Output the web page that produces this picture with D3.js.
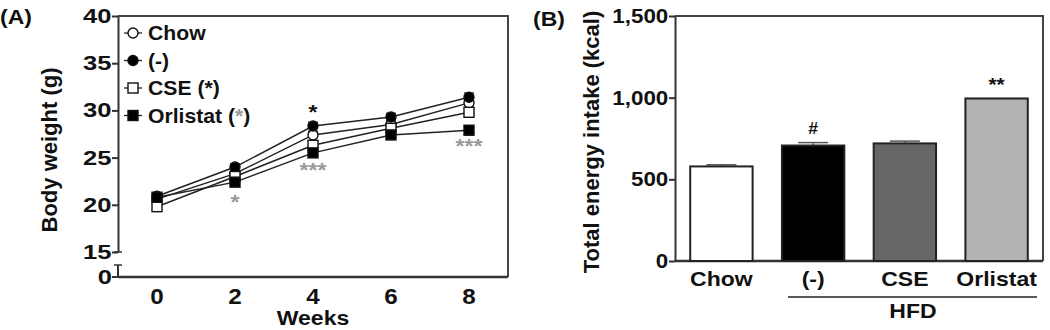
<!DOCTYPE html>
<html>
<head>
<meta charset="utf-8">
<script src="https://cdn.jsdelivr.net/npm/d3@7"></script>
<style>
  body { margin: 0; background: #fff; }
  svg text { font-family: "Liberation Sans", Arial, sans-serif; font-weight: bold; fill: #111; }
</style>
</head>
<body>
<svg id="chart" width="1050" height="330"></svg>
<script>
// panel A data: body weight by week
const weeks = [0, 2, 4, 6, 8];
const groupNames = ["Chow", "(-)", "CSE (*)", "Orlistat (*)"];
const chowWeight = [20.6, 23.3, 27.4, 28.5, 30.8];
const hfdWeight = [20.9, 24.0, 28.35, 29.3, 31.4];
const cseWeight = [19.8, 23.0, 26.3, 28.1, 29.8];
const orlistatWeight = [20.8, 22.4, 25.5, 27.4, 27.9];
const weightErr = [0.3, 0.35, 0.4, 0.4, 0.45];
const weightTicks = [15, 20, 25, 30, 35, 40];

// panel B data: total energy intake
const intakeCats = ["Chow", "(-)", "CSE", "Orlistat"];
const intakeVals = [579, 707, 720, 995];
const intakeErr = [10, 18, 14, 0];
const intakeTicks = [0, 500, 1000, 1500];

const svg = d3.select("#chart");

// the original lettering is a bit wider than Arial, so stretch it sideways
function addText(parent, x, y, str, size, anchor, sx) {
  const g = parent.append("g").attr("transform", "translate(" + x + "," + y + ") scale(" + sx + ",1)");
  return g.append("text").attr("text-anchor", anchor || "start").attr("font-size", size).text(str);
}

// ---------- panel A ----------
const xA = d3.scaleLinear().domain([-1, 9]).range([118, 508]);
const yA = d3.scaleLinear().domain([15, 40]).range([252, 16]);
const zeroY = 277;

addText(svg, 0, 24, "(A)", 20, "start", 1.15);

// frame top + right
svg.append("path")
  .attr("d", "M118,16H508V" + zeroY)
  .attr("fill", "none").attr("stroke", "#444").attr("stroke-width", 2);
// x axis line
svg.append("line").attr("x1", 118).attr("x2", 508).attr("y1", zeroY).attr("y2", zeroY)
  .attr("stroke", "#333").attr("stroke-width", 2.5);

// y axis (broken)
const yAxisA = svg.append("g").attr("transform", "translate(118,0)")
  .call(d3.axisLeft(yA).tickValues(weightTicks).tickSize(6).tickSizeOuter(0));
yAxisA.select(".domain").attr("stroke", "#333").attr("stroke-width", 2);
yAxisA.selectAll(".tick line").attr("stroke", "#333").attr("stroke-width", 2);
yAxisA.selectAll("text").attr("font-size", 20).attr("font-family", "Liberation Sans, Arial")
  .attr("font-weight", "bold").attr("fill", "#111").attr("x", -5).attr("transform", "scale(1.28,1)");
// break segment and 0 tick
svg.append("line").attr("x1", 118).attr("x2", 118).attr("y1", 265).attr("y2", zeroY)
  .attr("stroke", "#333").attr("stroke-width", 2);
svg.append("line").attr("x1", 114).attr("x2", 122).attr("y1", 265).attr("y2", 265)
  .attr("stroke", "#333").attr("stroke-width", 1.5);
svg.append("line").attr("x1", 114).attr("x2", 122).attr("y1", 252).attr("y2", 252)
  .attr("stroke", "#333").attr("stroke-width", 1.5);
svg.append("line").attr("x1", 112).attr("x2", 118).attr("y1", zeroY).attr("y2", zeroY)
  .attr("stroke", "#333").attr("stroke-width", 2);
addText(svg, 112, zeroY + 7, "0", 20, "end", 1.28);

// x tick labels
weeks.forEach(w => addText(svg, xA(w), 304, w, 22, "middle", 1.1));
addText(svg, xA(4), 325, "Weeks", 20, "middle", 1.15);

svg.append("text").attr("transform", "translate(57,150) rotate(-90)")
  .attr("text-anchor", "middle").attr("font-size", 22).text("Body weight (g)");

const seriesA = [
  { name: groupNames[0], vals: chowWeight, shape: "circle", fill: "#fff" },
  { name: groupNames[1], vals: hfdWeight, shape: "circle", fill: "#000" },
  { name: groupNames[2], vals: cseWeight, shape: "square", fill: "#fff" },
  { name: groupNames[3], vals: orlistatWeight, shape: "square", fill: "#000" }
];

const line = d3.line().x((d, i) => xA(weeks[i])).y(d => yA(d));

function drawMarker(g, s, cx, cy) {
  if (s.shape === "circle") {
    g.append("circle").attr("cx", cx).attr("cy", cy).attr("r", 5)
      .attr("fill", s.fill).attr("stroke", "#111").attr("stroke-width", 1.4);
  } else {
    g.append("rect").attr("x", cx - 5).attr("y", cy - 5).attr("width", 10).attr("height", 10)
      .attr("fill", s.fill).attr("stroke", "#111").attr("stroke-width", 1.4);
  }
}

const plotA = svg.append("g");
seriesA.forEach(s => {
  plotA.append("path").attr("d", line(s.vals)).attr("fill", "none")
    .attr("stroke", "#222").attr("stroke-width", 1.5);
});
seriesA.forEach(s => {
  s.vals.forEach((v, i) => {
    const cx = xA(weeks[i]);
    plotA.append("line").attr("x1", cx).attr("x2", cx)
      .attr("y1", yA(v - weightErr[i])).attr("y2", yA(v + weightErr[i]))
      .attr("stroke", "#111").attr("stroke-width", 1.2);
    plotA.append("line").attr("x1", cx - 5).attr("x2", cx + 5)
      .attr("y1", yA(v + weightErr[i])).attr("y2", yA(v + weightErr[i]))
      .attr("stroke", "#111").attr("stroke-width", 1.2);
    drawMarker(plotA, s, cx, yA(v));
  });
});

// significance marks
addText(svg, xA(4), 119, "*", 20, "middle", 1.15);
addText(svg, xA(2), 209, "*", 20, "middle", 1.15).style("fill", "#999");
addText(svg, xA(4), 177, "***", 20, "middle", 1.15).style("fill", "#999");
addText(svg, xA(8), 153, "***", 20, "middle", 1.15).style("fill", "#999");

// legend
const legend = svg.append("g");
seriesA.forEach((s, i) => {
  const cy = 33 + i * 27.5;
  legend.append("line").attr("x1", 124).attr("x2", 142).attr("y1", cy).attr("y2", cy)
    .attr("stroke", "#222").attr("stroke-width", 1.3);
  drawMarker(legend, s, 133, cy);
  const t = addText(legend, 148, cy + 7, null, 20, "start", 1.06);
  if (s.name.endsWith("(*)")) {
    t.append("tspan").text(s.name.replace(" (*)", " ("));
    const star = t.append("tspan").text("*");
    if (i === 3) star.style("fill", "#999");
    t.append("tspan").text(")");
  } else {
    t.text(s.name);
    if (s.name === "(-)") t.attr("font-weight", "normal");
  }
});

// ---------- panel B ----------
const xB = d3.scaleBand().domain(intakeCats).range([675, 1043])
  .paddingInner(0.32).paddingOuter(0.166);
const yB = d3.scaleLinear().domain([0, 1500]).range([261, 16]);
const barColors = ["#fff", "#000", "#666", "#b3b3b3"];

addText(svg, 533, 26, "(B)", 20, "start", 1.15);

svg.append("path").attr("d", "M675,16H1043V261")
  .attr("fill", "none").attr("stroke", "#444").attr("stroke-width", 2);
svg.append("line").attr("x1", 675).attr("x2", 1043).attr("y1", 261).attr("y2", 261)
  .attr("stroke", "#333").attr("stroke-width", 2.5);

const yAxisB = svg.append("g").attr("transform", "translate(675,0)")
  .call(d3.axisLeft(yB).tickValues(intakeTicks).tickSize(6).tickSizeOuter(0).tickFormat(d3.format(",")));
yAxisB.select(".domain").attr("stroke", "#333").attr("stroke-width", 2);
yAxisB.selectAll(".tick line").attr("stroke", "#333").attr("stroke-width", 2);
yAxisB.selectAll("text").attr("font-size", 20).attr("font-family", "Liberation Sans, Arial")
  .attr("font-weight", "bold").attr("fill", "#111").attr("x", -6).attr("transform", "scale(1.12,1)");

svg.append("text").attr("transform", "translate(599,142) rotate(-90)")
  .attr("text-anchor", "middle").attr("font-size", 22).text("Total energy intake (kcal)");

const barsB = svg.append("g");
intakeCats.forEach((c, i) => {
  const cx = xB(c) + xB.bandwidth() / 2;
  if (intakeErr[i] > 0) {
    barsB.append("line").attr("x1", cx).attr("x2", cx)
      .attr("y1", yB(intakeVals[i])).attr("y2", yB(intakeVals[i] + intakeErr[i]))
      .attr("stroke", "#555").attr("stroke-width", 1.2);
    barsB.append("line").attr("x1", cx - 15).attr("x2", cx + 15)
      .attr("y1", yB(intakeVals[i] + intakeErr[i])).attr("y2", yB(intakeVals[i] + intakeErr[i]))
      .attr("stroke", "#555").attr("stroke-width", 1.5);
  }
  barsB.append("rect").attr("x", xB(c)).attr("y", yB(intakeVals[i]))
    .attr("width", xB.bandwidth()).attr("height", yB(0) - yB(intakeVals[i]))
    .attr("fill", barColors[i]).attr("stroke", "#222").attr("stroke-width", 2);
  addText(svg, cx, 286, c, 20, "middle", 1.15);
});

addText(svg, xB("(-)") + xB.bandwidth() / 2, 134, "#", 16, "middle", 1.1);
addText(svg, xB("Orlistat") + xB.bandwidth() / 2, 91, "**", 18, "middle", 1.15);

svg.append("line").attr("x1", 788).attr("x2", 1037).attr("y1", 297).attr("y2", 297)
  .attr("stroke", "#222").attr("stroke-width", 1.5);
addText(svg, 913, 318, "HFD", 20, "middle", 1.15);
</script>
</body>
</html>
